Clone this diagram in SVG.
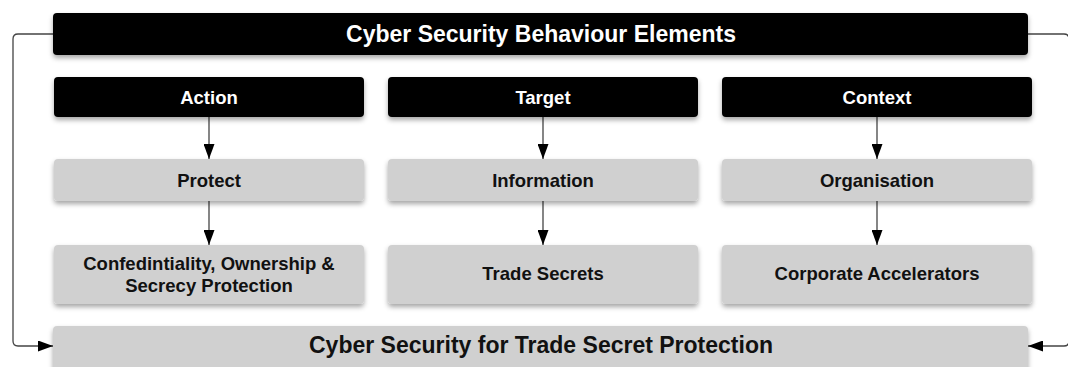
<svg xmlns="http://www.w3.org/2000/svg" width="1068" height="367" viewBox="0 0 1068 367">
  <defs>
    <filter id="shadow" x="-5%" y="-20%" width="110%" height="160%">
      <feDropShadow dx="0" dy="3" stdDeviation="2.5" flood-color="#000" flood-opacity="0.35"/>
    </filter>
    <marker id="arrow" viewBox="0 0 15 11" refX="15" refY="5.5" markerWidth="15" markerHeight="11" markerUnits="userSpaceOnUse" orient="auto">
      <path d="M0,0 L15,5.5 L0,11 z" fill="#000"/>
    </marker>
  </defs>
  <style>
    .dark { fill: #000; filter: url(#shadow); }
    .light { fill: #d0d0d0; filter: url(#shadow); }
    .t { font-family: "Liberation Sans", Arial, sans-serif; font-weight: bold; text-anchor: middle; }
    .tw { fill: #fff; }
    .tb { fill: #111; }
    .big { font-size: 23px; }
    .mid { font-size: 18.5px; }
    .link { fill: none; stroke: #444; stroke-width: 1.3; marker-end: url(#arrow); }
  </style>
  <rect width="1068" height="367" fill="#fff"/>

  <!-- connectors -->
  <g id="connectors">
    <path class="link" d="M53,34 H18 Q13,34 13,39 V341 Q13,346 18,346 H53"/>
    <path class="link" d="M1028,34 H1064 Q1069,34 1069,39 V341 Q1069,346 1064,346 H1028"/>
    <path class="link" d="M209,117 V159"/>
    <path class="link" d="M543,117 V159"/>
    <path class="link" d="M877,117 V159"/>
    <path class="link" d="M209,201 V245"/>
    <path class="link" d="M543,201 V245"/>
    <path class="link" d="M877,201 V245"/>
  </g>

  <g id="elements">
    <rect class="dark" x="53" y="13" width="975" height="42" rx="4"/>
    <text class="t tw big" x="541" y="42">Cyber Security Behaviour Elements</text>
  </g>

  <g id="action">
    <rect class="dark" x="54" y="77" width="310" height="40" rx="4"/>
    <text class="t tw mid" x="209" y="103.5">Action</text>
  </g>
  <g id="target">
    <rect class="dark" x="388" y="77" width="310" height="40" rx="4"/>
    <text class="t tw mid" x="543" y="103.5">Target</text>
  </g>
  <g id="context">
    <rect class="dark" x="722" y="77" width="310" height="40" rx="4"/>
    <text class="t tw mid" x="877" y="103.5">Context</text>
  </g>

  <g id="protect">
    <rect class="light" x="54" y="159" width="310" height="42" rx="4"/>
    <text class="t tb mid" x="209" y="186.5">Protect</text>
  </g>
  <g id="information">
    <rect class="light" x="388" y="159" width="310" height="42" rx="4"/>
    <text class="t tb mid" x="543" y="186.5">Information</text>
  </g>
  <g id="organisation">
    <rect class="light" x="722" y="159" width="310" height="42" rx="4"/>
    <text class="t tb mid" x="877" y="186.5">Organisation</text>
  </g>

  <g id="confidentiality">
    <rect class="light" x="54" y="245" width="310" height="59" rx="4"/>
    <text class="t tb mid" x="209" y="269.5">Confedintiality, Ownership &amp;</text>
    <text class="t tb mid" x="209" y="291.5">Secrecy Protection</text>
  </g>
  <g id="trade-secrets">
    <rect class="light" x="388" y="245" width="310" height="59" rx="4"/>
    <text class="t tb mid" x="543" y="280">Trade Secrets</text>
  </g>
  <g id="accelerators">
    <rect class="light" x="722" y="245" width="310" height="59" rx="4"/>
    <text class="t tb mid" x="877" y="280">Corporate Accelerators</text>
  </g>

  <g id="protection">
    <rect class="light" x="53" y="326" width="975" height="50" rx="4"/>
    <text class="t tb big" x="541" y="353">Cyber Security for Trade Secret Protection</text>
  </g>
</svg>
